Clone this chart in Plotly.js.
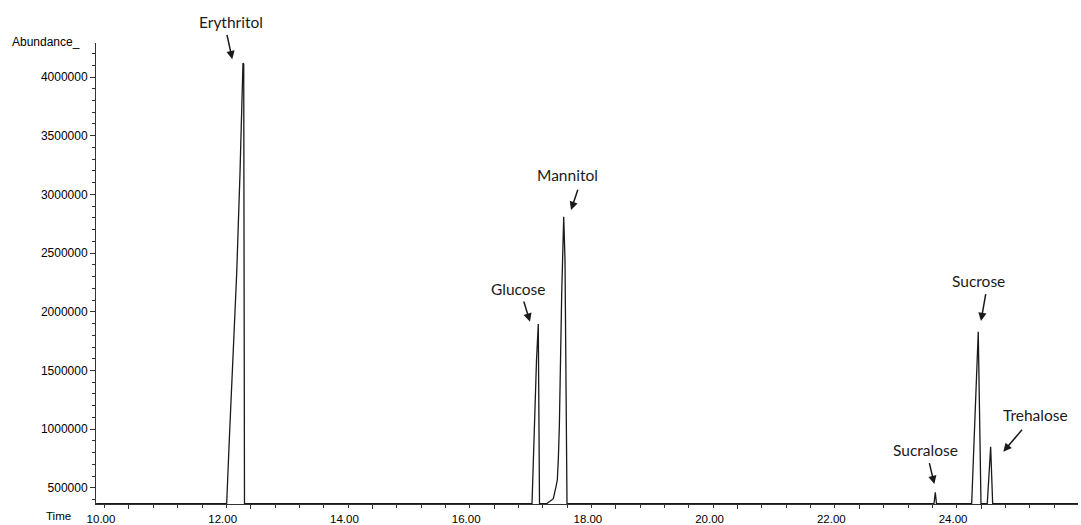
<!DOCTYPE html>
<html>
<head>
<meta charset="utf-8">
<script src="https://cdn.plot.ly/plotly-3.0.1.min.js"></script>
<style>
html,body{margin:0;padding:0;background:#fff;}
#chart{width:1081px;height:525px;}
</style>
</head>
<body>
<div id="chart"></div>
<script>
// Retention time (min) of the trace points
const time = [
  9.46,
  11.605, 11.648, 11.697, 11.770, 11.824, 11.873, 11.885, 11.898,
  16.622, 16.647, 16.696, 16.725, 16.745,
  16.863, 16.906, 16.945, 16.972, 17.016, 17.038, 17.054, 17.071, 17.110, 17.143, 17.164, 17.180, 17.197,
  23.227, 23.248, 23.268,
  23.846, 23.954, 23.975, 23.999,
  24.102, 24.158, 24.191,
  25.60
];
// Abundance at each time point
const abundance = [
  365000,
  365000, 908000, 1479000, 2330000, 3182000, 4119000, 4110000, 365000,
  365000, 823000, 1589000, 1896000, 365000,
  365000, 382000, 405000, 408000, 510000, 567000, 738000, 1021000, 2158000, 2810000, 2441000, 1589000, 365000,
  365000, 462000, 365000,
  365000, 1830000, 1180000, 365000,
  365000, 851000, 365000,
  365000
];

// Peak labels
const peakNames = ["Erythritol", "Glucose", "Mannitol", "Sucralose", "Sucrose", "Trehalose"];
// label centre (time, abundance)
const labelT = [11.684, 16.408, 17.197, 23.087, 23.966, 24.887];
const labelV = [4468500, 2194200, 3165200, 822800, 2262300, 1120900];
// arrow tail and tip (time, abundance)
const tailT = [11.605, 16.479, 17.383, 23.145, 24.081, 24.694];
const tailV = [4372200, 2100500, 3051900, 723100, 2162700, 1007600];
const tipT  = [11.697, 16.589, 17.263, 23.232, 23.999, 24.366];
const tipV  = [4150800, 1915700, 2867100, 533200, 1921600, 808300];

const tickFont = {family: "Liberation Sans, Arial, sans-serif", size: 12, color: "#000"};
const xTickFont = {family: "Liberation Sans, Arial, sans-serif", size: 11.5, color: "#000"};
const labelFont = {family: "Lato, Open Sans, sans-serif", size: 15.5, color: "#1a1a1a"};

const yRange = [362800, 4289600];

const annotations = [];
peakNames.forEach((name, i) => {
  const outside = labelV[i] > yRange[1];
  annotations.push({
    x: labelT[i], xref: "x",
    y: outside ? (labelV[i] - yRange[0]) / (yRange[1] - yRange[0]) : labelV[i],
    yref: outside ? "paper" : "y",
    text: name, showarrow: false, font: labelFont,
    xanchor: "center", yanchor: "middle"
  });
  annotations.push({
    x: tipT[i], y: tipV[i], xref: "x", yref: "y",
    ax: tailT[i], ay: tailV[i], axref: "x", ayref: "y",
    text: "", showarrow: true, arrowhead: 2, arrowsize: 1.1,
    arrowwidth: 1.5, arrowcolor: "#1a1a1a", standoff: 0
  });
});
annotations.push({
  xref: "paper", yref: "paper", x: -0.0143, y: 1.0022,
  xanchor: "right", yanchor: "middle", text: "Abundance_",
  showarrow: false, font: tickFont
});
annotations.push({
  xref: "paper", yref: "paper", x: -0.0377, y: -0.026,
  xanchor: "center", yanchor: "middle", text: "Time",
  showarrow: false, font: xTickFont
});

const trace = {
  x: time, y: abundance, type: "scatter", mode: "lines",
  line: {color: "#1a1a1a", width: 1.3},
  hoverinfo: "x+y"
};

const layout = {
  width: 1081, height: 525,
  margin: {l: 96, r: 3, t: 43, b: 21},
  paper_bgcolor: "#fff", plot_bgcolor: "#fff",
  showlegend: false,
  xaxis: {
    range: [9.458, 25.593],
    tick0: 10, dtick: 2, tickformat: ".2f",
    ticks: "outside", ticklen: 4, tickcolor: "#333", tickwidth: 1,
    minor: {dtick: 0.4, tick0: 10, ticks: "outside", ticklen: 3, tickcolor: "#333"},
    showline: true, linecolor: "#333", linewidth: 1,
    showgrid: false, zeroline: false,
    tickfont: xTickFont, ticklabelshift: -28
  },
  yaxis: {
    range: yRange,
    tick0: 0, dtick: 500000, tickformat: "d",
    ticks: "outside", ticklen: 5, tickcolor: "#333", tickwidth: 1,
    minor: {dtick: 100000, tick0: 0, ticks: "outside", ticklen: 3, tickcolor: "#333"},
    showline: true, linecolor: "#333", linewidth: 1,
    showgrid: false, zeroline: false,
    tickfont: tickFont
  },
  annotations: annotations
};

Plotly.newPlot("chart", [trace], layout, {displayModeBar: false, staticPlot: true});
</script>
</body>
</html>
